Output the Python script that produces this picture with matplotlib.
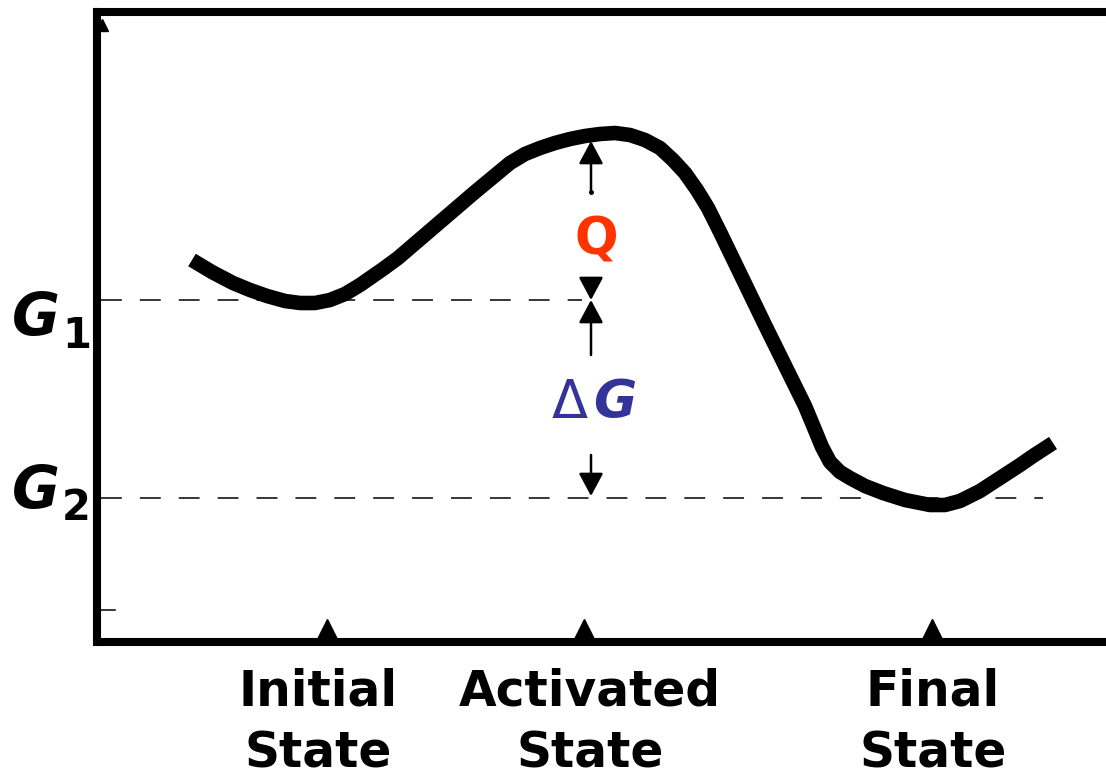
import matplotlib
matplotlib.use("Agg")
import matplotlib.pyplot as plt

plt.rcParams['font.family'] = ['DejaVu Sans']
plt.rcParams['lines.scale_dashes'] = False

# free energy along the reaction coordinate (arbitrary units)
reaction_coord = [0.95, 1.15, 1.36, 1.53, 1.70, 1.88, 2.03, 2.18, 2.33, 2.48,
                  2.63, 2.86, 3.01, 3.43, 3.78, 4.13, 4.28, 4.43, 4.58, 4.73,
                  4.88, 5.03, 5.18, 5.33, 5.48, 5.63, 5.76, 5.88, 6.00, 6.11,
                  6.23, 6.68, 7.08, 7.18, 7.25, 7.33, 7.43, 7.53, 7.68, 7.86,
                  8.08, 8.33, 8.48, 8.63, 8.83, 9.03, 9.23, 9.36, 9.56]
free_energy = [3.82, 3.70, 3.59, 3.52, 3.46, 3.41, 3.39, 3.39, 3.42, 3.48,
               3.57, 3.73, 3.84, 4.20, 4.50, 4.79, 4.88, 4.94, 4.99, 5.03,
               5.06, 5.08, 5.09, 5.07, 5.02, 4.94, 4.82, 4.69, 4.52, 4.34,
               4.10, 3.17, 2.36, 2.12, 1.95, 1.80, 1.70, 1.64, 1.56, 1.49,
               1.42, 1.37, 1.37, 1.41, 1.51, 1.64, 1.77, 1.86, 1.99]

G1 = 3.42
G2 = 1.44
G_peak = 5.01
G1_line_end = 4.85
G2_line_end = 9.46
level_names = ['1', '2']
level_label_y = [3.07, 1.34]
level_sub_y = [2.94, 1.22]

state_x = [2.30, 4.87, 8.35]
state_labels = ["Initial\nState", "Activated\nState", "Final\nState"]
label_x = [2.21, 4.93, 8.36]

arrow_x = 4.94

fig = plt.figure(figsize=(11.06, 7.77), dpi=100)
ax = fig.add_axes([97 / 1106, 1 - 642 / 777, 1 - 97 / 1106, (642 - 12) / 777])
ax.set_xlim(0, 10.09)
ax.set_ylim(0, 6.30)

for side in ['left', 'top', 'bottom']:
    ax.spines[side].set_linewidth(5.8)
    ax.spines[side].set_capstyle('projecting')
ax.spines['right'].set_visible(False)
ax.set_xticks([])
ax.set_yticks([])

# energy curve
ax.plot(reaction_coord, free_energy, color='black', lw=10.5,
        solid_joinstyle='round', solid_capstyle='butt')

# reference levels
ax.plot([0.04, G1_line_end], [G1, G1], color='black', lw=1.1, ls=(0, (15, 13)))
ax.plot([0.04, G2_line_end], [G2, G2], color='black', lw=1.1, ls=(0, (15, 13)))
ax.plot([0.04, 0.18], [0.32, 0.32], color='black', lw=1.1)
ax.plot([0.05], [6.17], marker='^', markersize=9, color='black', clip_on=False)

# G1 / G2 labels
for ly, sy, name in zip(level_label_y, level_sub_y, level_names):
    ax.text(-0.85, ly, 'G', fontsize=42, fontweight='bold',
            fontstyle='italic', ha='left', va='baseline', clip_on=False)
    ax.text(-0.35, sy, name, fontsize=30, fontweight='bold',
            ha='left', va='baseline', clip_on=False)

# state markers on the axis
ax.plot(state_x, [0.13] * 3, ls='none', marker='^', markersize=14,
        color='black', clip_on=False, zorder=5)
for x, lab in zip(label_x, state_labels):
    ax.text(x, -0.25, lab, fontsize=35, fontweight='bold', ha='center',
            va='top', linespacing=1.38, clip_on=False)

# Q and delta G arrows
head = dict(arrowstyle='-|>,head_length=14,head_width=7.5', color='black',
            lw=1.8, shrinkA=0, shrinkB=0, mutation_scale=1)
ax.annotate('', xy=(arrow_x, G_peak), xytext=(arrow_x, 4.50), arrowprops=head)
ax.annotate('', xy=(arrow_x, G1), xytext=(arrow_x, 3.63), arrowprops=head)
ax.annotate('', xy=(arrow_x, G1), xytext=(arrow_x, 2.87), arrowprops=head)
ax.annotate('', xy=(arrow_x, G2 + 0.02), xytext=(arrow_x, 1.87), arrowprops=head)
ax.plot([arrow_x], [4.50], marker='o', markersize=2.5, color='black')

ax.text(4.99, 4.02, 'Q', fontsize=37, fontweight='bold', color='#FF3300',
        ha='center', va='center')
ax.text(4.73, 2.24, '\u0394', fontsize=38, color='#333399', ha='center',
        va='baseline')
ax.text(5.18, 2.24, 'G', fontsize=38, fontweight='bold', fontstyle='italic',
        color='#333399', ha='center', va='baseline')

fig.savefig('out.png', dpi=100)
